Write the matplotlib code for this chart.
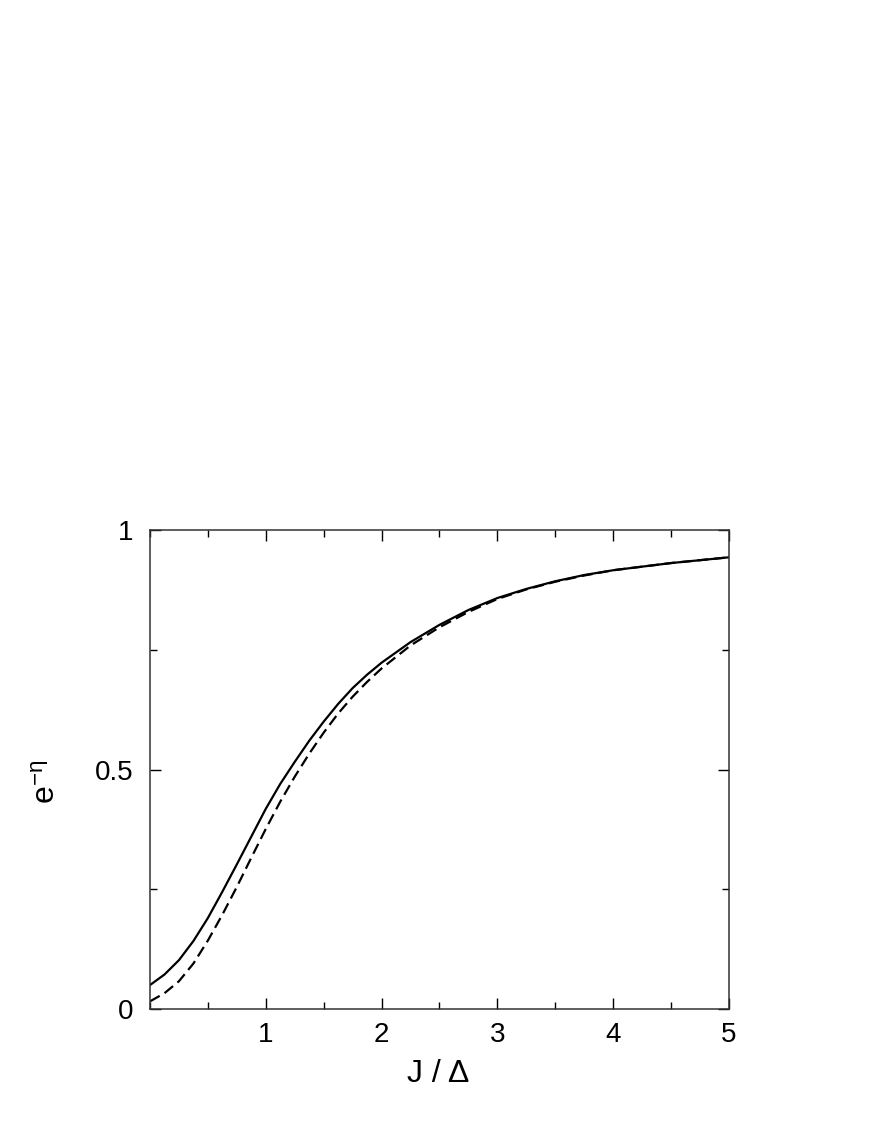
import numpy as np
import matplotlib
matplotlib.use('Agg')
import matplotlib.pyplot as plt
from matplotlib.ticker import MultipleLocator

plt.rcParams['font.family'] = ['Liberation Sans', 'DejaVu Sans']
plt.rcParams['mathtext.fontset'] = 'custom'
plt.rcParams['mathtext.rm'] = 'Liberation Sans'

# --- data ---
J = [0.0, 0.125, 0.25, 0.375, 0.5, 0.625, 0.75, 0.875, 1.0, 1.125, 1.25, 1.375, 1.5,
     1.625, 1.75, 1.875, 2.0, 2.25, 2.5, 2.75, 3.0, 3.25, 3.5, 3.75, 4.0, 4.5, 5.0]
solid = [0.050, 0.072, 0.102, 0.142, 0.190, 0.245, 0.302, 0.360, 0.418, 0.470, 0.516, 0.560,
         0.600, 0.637, 0.670, 0.698, 0.723, 0.766, 0.802, 0.833, 0.858, 0.877, 0.893, 0.906,
         0.916, 0.931, 0.943]
dashed = [0.016, 0.033, 0.058, 0.095, 0.143, 0.197, 0.255, 0.316, 0.376, 0.433, 0.485, 0.533,
          0.577, 0.617, 0.652, 0.683, 0.711, 0.759, 0.797, 0.829, 0.856, 0.876, 0.892, 0.905,
          0.916, 0.931, 0.943]

fig = plt.figure(figsize=(8.79, 11.38), dpi=100)
ax = fig.add_axes([150 / 879, 1 - 1009 / 1138, 579 / 879, 479 / 1138])

ax.plot(J, solid, color='black', linewidth=1.6, linestyle='-')
ax.plot(J, dashed, color='black', linewidth=1.6, linestyle=(0, (5, 2.5)))

ax.set_xlim(0, 5)
ax.set_ylim(0, 1)
ax.xaxis.set_minor_locator(MultipleLocator(0.5))
ax.yaxis.set_minor_locator(MultipleLocator(0.25))
ax.set_xticks([1, 2, 3, 4, 5])
ax.set_xticklabels(['1', '2', '3', '4', '5'])
ax.set_yticks([0, 0.5, 1])
ax.set_yticklabels(['0', '0.5', '1'])

ax.tick_params(which='both', direction='in', top=True, right=True, width=1, labelsize=20)
ax.tick_params(which='major', length=8)
ax.tick_params(axis='x', which='major', pad=9)
ax.tick_params(axis='y', which='major', pad=12)
ax.tick_params(which='minor', length=5)
for s in ax.spines.values():
    s.set_linewidth(1.1)
    s.set_color('#333333')

ax.set_xlabel('J / Δ', fontsize=23)
ax.set_ylabel(r'$\mathregular{e^{-η}}$', fontsize=23)
ax.xaxis.set_label_coords(0.497, -0.104)
ax.yaxis.set_label_coords(-0.153, 0.474)

plt.savefig('out.png', dpi=100)
